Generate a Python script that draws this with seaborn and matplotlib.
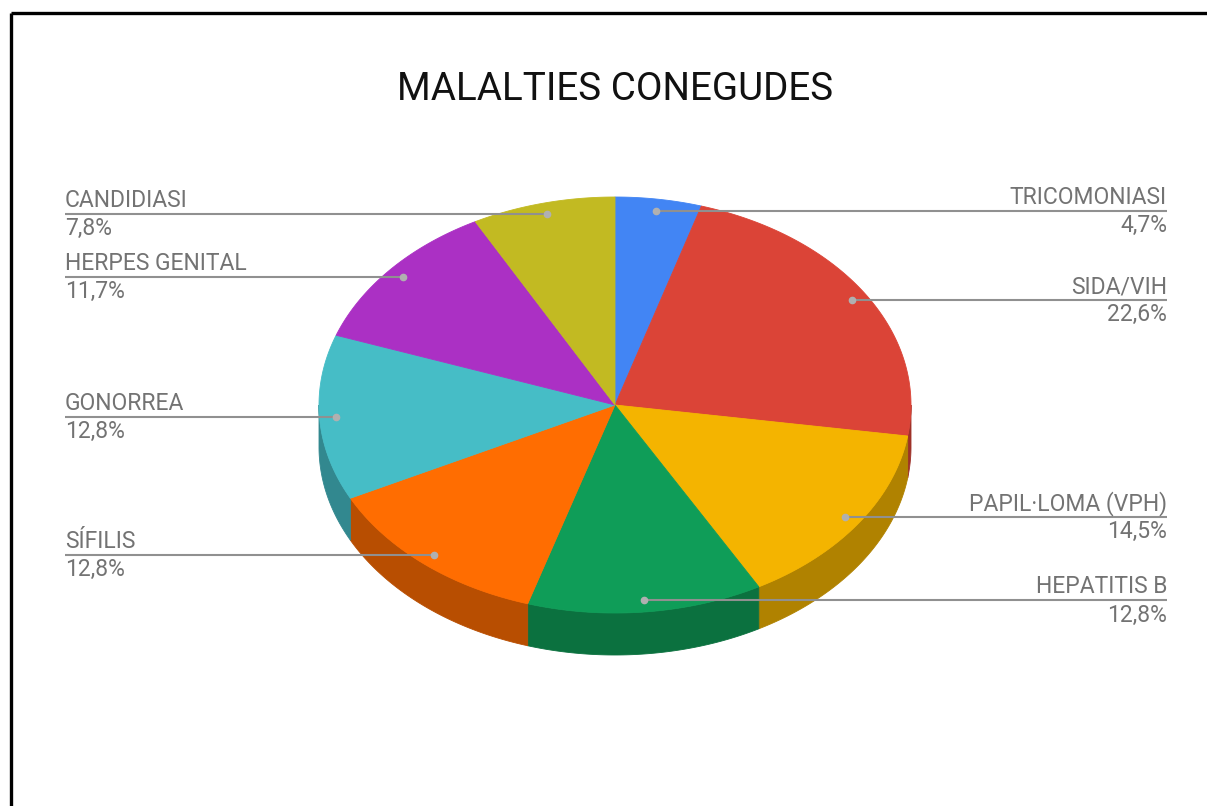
import numpy as np
import matplotlib
matplotlib.use("Agg")
import matplotlib.pyplot as plt
from matplotlib.patches import Polygon
import seaborn as sns

# Data: diseases known, share of answers (%)
diseases = ["TRICOMONIASI", "SIDA/VIH", "PAPIL·LOMA (VPH)", "HEPATITIS B",
            "SÍFILIS", "GONORREA", "HERPES GENITAL", "CANDIDIASI"]
shares = [4.7, 22.6, 14.5, 12.8, 12.8, 12.8, 11.7, 7.8]
share_labels = ["4,7%", "22,6%", "14,5%", "12,8%", "12,8%", "12,8%", "11,7%", "7,8%"]
slice_hex = ["#4285F4", "#DB4437", "#F4B400", "#0F9D58",
             "#FF6D01", "#46BDC6", "#AB30C4", "#C2BA22"]
title = "MALALTIES CONEGUDES"

sns.set_theme(style="white")
plt.rcParams["font.family"] = ["Roboto", "DejaVu Sans"]
palette = sns.color_palette(slice_hex)

W, H = 1207, 806
fig = plt.figure(figsize=(W / 100, H / 100), dpi=100)
ax = fig.add_axes([0, 0, 1, 1])
ax.set_xlim(0, W)
ax.set_ylim(H, 0)
ax.axis("off")

# Pie geometry in pixel units (tilted disc)
cx, cy = 615, 405
rx, ry = 296, 208
depth = 42
anchor_frac = 0.945
left_x, right_x = 65, 1167


def edge(theta_deg, frac=1.0, dy=0.0):
    t = np.radians(theta_deg)
    return cx + frac * rx * np.sin(t), cy - frac * ry * np.cos(t) + dy


vals = np.array(shares, dtype=float)
fracs = vals / vals.sum()
bounds = np.concatenate([[0], np.cumsum(fracs)]) * 360.0

# Side walls: only the front half of the disc (90..270 deg) is visible
for i, col in enumerate(palette):
    a, b = max(bounds[i], 90.0), min(bounds[i + 1], 270.0)
    if b <= a:
        continue
    th = np.linspace(a, b, 80)
    tx, ty = edge(th)
    bx, by = edge(th[::-1], dy=depth)
    pts = np.column_stack([np.concatenate([tx, bx]), np.concatenate([ty, by])])
    dark = tuple(c * 0.72 for c in col)
    ax.add_patch(Polygon(pts, closed=True, facecolor=dark, edgecolor=dark,
                         linewidth=0.6, zorder=1))

# Top faces
for i, col in enumerate(palette):
    th = np.linspace(bounds[i], bounds[i + 1], 120)
    tx, ty = edge(th)
    pts = np.column_stack([np.concatenate([[cx], tx]), np.concatenate([[cy], ty])])
    ax.add_patch(Polygon(pts, closed=True, facecolor=col, edgecolor=col,
                         linewidth=0.6, zorder=2))

# Leader lines and labels
label_color = "#737373"
line_color = "#909090"
for i, name in enumerate(diseases):
    mid = (bounds[i] + bounds[i + 1]) / 2
    px, py = edge(mid, frac=anchor_frac)
    on_right = mid < 180
    tx = right_x if on_right else left_x
    ha = "right" if on_right else "left"
    ax.plot([px, tx], [py, py], color=line_color, lw=1.5, zorder=3,
            solid_capstyle="butt")
    ax.plot(px, py, "o", ms=4.5, color="#b0b0b0", zorder=4)
    ax.text(tx, py - 7, name, ha=ha, va="baseline", fontsize=16.5,
            color=label_color, zorder=5)
    ax.text(tx, py + 21, share_labels[i], ha=ha, va="baseline", fontsize=16.5,
            color=label_color, zorder=5)

ax.text(615, 100, title, ha="center", va="baseline", fontsize=27.8,
        color="#111111", zorder=5)

# Frame along the top and left edges
ax.plot([11, W], [13, 13], color="black", lw=2.4, solid_capstyle="butt")
ax.plot([11, 11], [13, H], color="black", lw=2.4, solid_capstyle="butt")

fig.savefig("out.png", dpi=100, facecolor="white")
